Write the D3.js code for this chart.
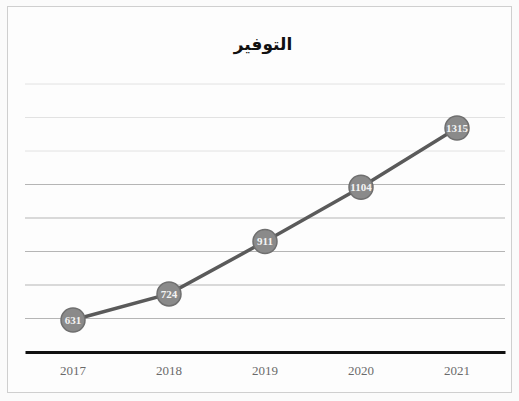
<!DOCTYPE html>
<html>
<head>
<meta charset="utf-8">
<script src="https://cdn.jsdelivr.net/npm/d3@7/dist/d3.min.js"></script>
<style>
  html, body { margin: 0; padding: 0; background: #fbfbfb; }
  svg { display: block; }
</style>
</head>
<body>
<svg id="chart" width="519" height="401"></svg>
<script>
// Savings by year
const years = ["2017", "2018", "2019", "2020", "2021"];
const savings = [631, 724, 911, 1104, 1315];
const title = "التوفير";
const gridCount = 8;

const W = 519, H = 401;
const margin = { top: 84, right: 14, bottom: 49, left: 25 };
const plotW = W - margin.left - margin.right;
const plotH = H - margin.top - margin.bottom;

const svg = d3.select("#chart");

// chart frame
svg.append("rect")
  .attr("x", 7.5).attr("y", 6.5)
  .attr("width", 504).attr("height", 386)
  .attr("fill", "#fdfdfd")
  .attr("stroke", "#cfcfcf").attr("stroke-width", 1);

const g = svg.append("g").attr("transform", `translate(${margin.left},${margin.top})`);

const x = d3.scaleBand().domain(years).range([0, plotW]).padding(0);
const y = d3.scaleLinear().domain([517, 1472]).range([plotH, 0]);

// horizontal gridlines, evenly spaced through the plot
const gridVals = d3.range(1, gridCount + 1).map(i => y.invert(plotH - i * plotH / gridCount));
g.append("g").selectAll("line")
  .data(gridVals)
  .join("line")
  .attr("x1", 0).attr("x2", plotW)
  .attr("y1", d => y(d)).attr("y2", d => y(d))
  .attr("stroke", (d, i) => i < 5 ? "#b5b5b5" : "#e2e2e2")
  .attr("stroke-width", 1);

// category axis
const xAxis = g.append("g")
  .attr("transform", `translate(0,${plotH})`)
  .call(d3.axisBottom(x).tickSize(0).tickPadding(14));
xAxis.select(".domain").attr("stroke", "#111").attr("stroke-width", 3);
xAxis.selectAll("text")
  .attr("fill", "#6a6a6a")
  .attr("font-family", "Liberation Serif, serif")
  .attr("font-size", 13);

const cx = d => x(d) + x.bandwidth() / 2;

// trend line
const line = d3.line()
  .x((d, i) => cx(years[i]))
  .y(d => y(d));
g.append("path")
  .datum(savings)
  .attr("d", line)
  .attr("fill", "none")
  .attr("stroke", "#5a5a5a")
  .attr("stroke-width", 3.5)
  .attr("stroke-linecap", "round");

// markers with value labels
const pts = g.append("g").selectAll("g")
  .data(savings)
  .join("g")
  .attr("transform", (d, i) => `translate(${cx(years[i])},${y(d)})`);
pts.append("circle")
  .attr("r", 12)
  .attr("fill", "#8a8a8a")
  .attr("stroke", "#6f6f6f")
  .attr("stroke-width", 1.5);
pts.append("text")
  .text(d => d)
  .attr("text-anchor", "middle")
  .attr("dy", "0.36em")
  .attr("font-family", "Liberation Serif, serif")
  .attr("font-size", 11)
  .attr("font-weight", "bold")
  .attr("fill", "#f4f4f4");

// title
svg.append("text")
  .attr("x", 263).attr("y", 50)
  .attr("text-anchor", "middle")
  .attr("font-family", "Noto Sans, DejaVu Sans, sans-serif")
  .attr("font-weight", "bold")
  .attr("font-size", 17)
  .attr("fill", "#111")
  .text(title);
</script>
</body>
</html>
